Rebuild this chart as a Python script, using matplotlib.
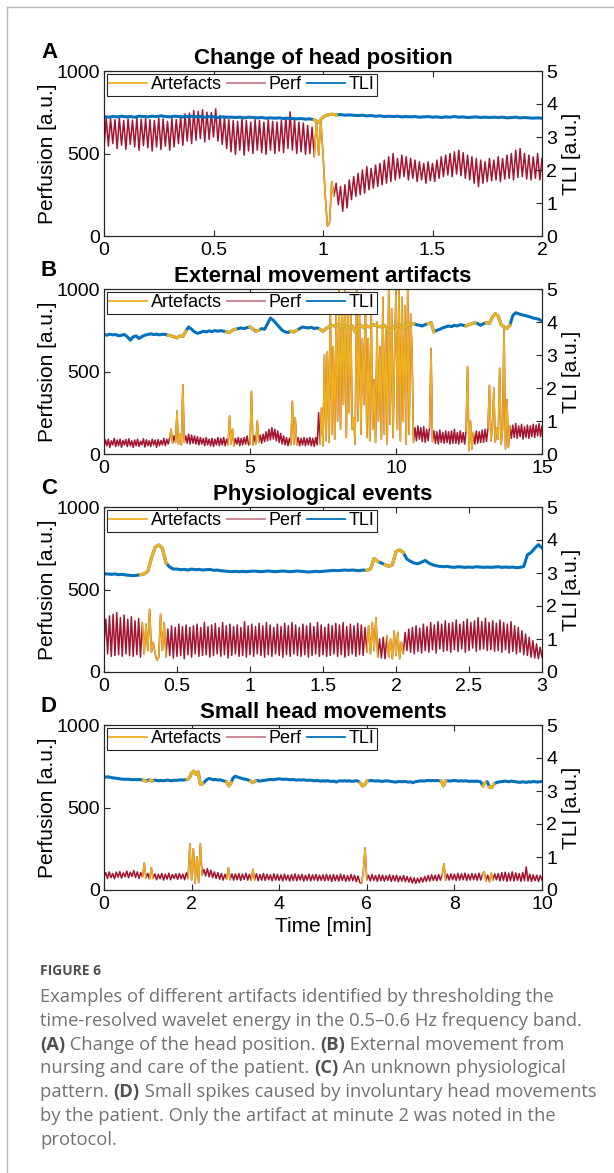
import numpy as np
import matplotlib
matplotlib.use("Agg")
from matplotlib import pyplot as plt
from matplotlib.lines import Line2D

plt.rcParams["font.family"] = ["Liberation Sans", "DejaVu Sans"]

W, H = 614, 1173
ORANGE = "#EDB120"
RED = "#A2142F"
BLUE = "#0072BD"
AXC = "#262626"

# ---- A: change of head position (0-2 min) ----
perf_a = [
    530, 715, 545, 712, 560, 705, 530, 718, 550, 700,
    525, 710, 555, 702, 540, 716, 520, 708, 548, 712,
    535, 705, 515, 700, 540, 715, 525, 710, 545, 695,
    520, 712, 540, 706, 560, 725, 550, 740, 575, 745,
    560, 760, 580, 755, 590, 765, 570, 750, 585, 748,
    600, 770, 575, 730, 555, 720, 530, 705, 510, 700,
    495, 695, 520, 710, 490, 700, 515, 690, 500, 705,
    520, 700, 505, 690, 495, 705, 520, 695, 500, 690,
    515, 700, 505, 720, 530, 752, 520, 705, 500, 690,
    510, 685, 495, 670, 500, 660, 480, 700, 490, 700,
    500, 250, 60, 80, 330, 240, 320, 190, 300, 150,
    310, 170, 340, 220, 360, 240, 380, 250, 400, 260,
    420, 280, 410, 290, 430, 300, 440, 310, 460, 320,
    480, 330, 500, 340, 470, 350, 490, 360, 480, 340,
    470, 350, 460, 330, 450, 340, 440, 320, 450, 335,
    440, 330, 460, 350, 480, 360, 490, 370, 500, 360,
    510, 375, 520, 365, 505, 350, 490, 340, 480, 320,
    470, 300, 460, 320, 450, 330, 470, 335, 460, 340,
    480, 330, 470, 345, 490, 350, 500, 340, 520, 355,
    530, 360, 500, 345, 490, 340, 480, 350, 500, 340,
    470,
]
tli_a = [
    3.62, 3.60, 3.62, 3.61, 3.63, 3.61, 3.62, 3.60, 3.63, 3.62,
    3.61, 3.63, 3.62, 3.64, 3.62, 3.61, 3.63, 3.62, 3.61, 3.62,
    3.63, 3.61, 3.62, 3.60, 3.62, 3.61, 3.59, 3.61, 3.60, 3.60,
    3.59, 3.60, 3.58, 3.60, 3.59, 3.58, 3.59, 3.57, 3.58, 3.57,
    3.58, 3.56, 3.57, 3.56, 3.55, 3.56, 3.54, 3.55, 3.52, 3.44,
    3.60, 3.67, 3.69, 3.67, 3.68, 3.66, 3.67, 3.66, 3.65, 3.66,
    3.64, 3.65, 3.63, 3.64, 3.62, 3.63, 3.62, 3.63, 3.61, 3.62,
    3.61, 3.62, 3.60, 3.61, 3.62, 3.60, 3.61, 3.59, 3.61, 3.60,
    3.62, 3.60, 3.61, 3.59, 3.60, 3.61, 3.59, 3.60, 3.59, 3.60,
    3.59, 3.60, 3.58, 3.59, 3.60, 3.58, 3.59, 3.58, 3.57, 3.58,
    3.57,
]
art_a = [(0.965, 1.045)]

# ---- B: external movement (0-15 min) ----
perf_b = [
    45, 85, 50, 90, 40, 80, 55, 95, 45, 85, 50, 90, 40, 82, 55, 88, 45, 92, 50, 80,
    40, 85, 50, 90, 45, 78, 55, 92, 42, 86, 50, 80, 45, 90, 55, 85, 40, 88, 50, 82,
    55, 95, 50, 90, 60, 100, 150, 65, 110, 70, 260, 60, 120, 55, 420, 70, 110, 65, 120, 60,
    115, 65, 110, 60, 105, 55, 100, 60, 95, 50, 100, 55, 90, 50, 95, 45, 90, 55, 100, 50,
    95, 55, 100, 50, 90, 55, 230, 60, 150, 50, 95, 60, 100, 50, 95, 55, 100, 60, 110, 55,
    60, 380, 55, 110, 60, 200, 70, 115, 65, 120, 75, 135, 80, 150, 85, 160, 90, 150, 80, 140,
    70, 125, 60, 110, 55, 100, 50, 95, 55, 320, 60, 220, 55, 100, 50, 95, 55, 100, 50, 95,
    55, 100, 50, 95, 45, 100, 55, 250, 60, 280, 50, 600, 80, 620, 70, 900, 120, 650, 90, 850,
    200, 1000, 150, 950, 300, 1000, 100, 980, 250, 880, 150, 220, 60, 1000, 200, 850, 120, 700, 300, 950,
    100, 700, 80, 900, 150, 450, 70, 800, 200, 650, 90, 950, 120, 750, 60, 1000, 180, 880, 100, 600,
    1000, 150, 1000, 80, 950, 200, 900, 60, 1000, 120, 850, 620, 70, 160, 80, 170, 90, 160, 75, 165,
    70, 150, 80, 160, 640, 75, 140, 65, 135, 60, 145, 70, 130, 65, 140, 70, 135, 60, 140, 65,
    150, 65, 130, 60, 140, 70, 130, 60, 140, 530, 20, 200, 30, 130, 60, 140, 65, 135, 70, 145,
    70, 150, 75, 160, 416, 80, 150, 400, 70, 160, 90, 520, 60, 150, 775, 30, 330, 40, 170, 95,
    175, 100, 185, 95, 170, 105, 180, 90, 165, 100, 175, 95, 170, 105, 180, 100, 175, 110, 185, 105,
    170,
]
tli_b = [
    3.62, 3.60, 3.63, 3.61, 3.62, 3.58, 3.60, 3.62, 3.55, 3.45,
    3.55, 3.58, 3.50, 3.56, 3.60, 3.62, 3.64, 3.62, 3.63, 3.61,
    3.63, 3.62, 3.60, 3.58, 3.55, 3.52, 3.58, 3.56, 3.72, 3.85,
    3.78, 3.70, 3.66, 3.68, 3.72, 3.70, 3.73, 3.71, 3.74, 3.72,
    3.74, 3.72, 3.70, 3.68, 3.75, 3.78, 3.80, 3.82, 3.80, 3.83,
    3.85, 3.78, 3.72, 3.75, 3.80, 3.78, 3.95, 4.12, 4.05, 3.95,
    3.85, 3.75, 3.70, 3.68, 3.72, 3.70, 3.75, 3.80, 3.85, 3.83,
    3.82, 3.84, 3.80, 3.82, 3.78, 3.72, 3.80, 3.85, 3.90, 3.88,
    3.92, 3.85, 3.90, 3.86, 3.80, 3.88, 3.70, 3.85, 3.90, 3.82,
    3.88, 3.85, 3.92, 3.90, 3.87, 3.85, 3.90, 3.80, 3.70, 3.85,
    3.88, 3.92, 3.80, 3.85, 3.95, 3.90, 3.95, 3.92, 3.90, 3.88,
    3.92, 3.95, 3.98, 3.70, 3.75, 3.78, 3.82, 3.85, 3.88, 3.86,
    3.90, 3.88, 3.92, 3.90, 3.88, 3.92, 3.95, 3.98, 3.95, 3.90,
    3.95, 3.98, 3.96, 4.15, 4.25, 4.18, 3.92, 3.85, 3.80, 3.90,
    4.20, 4.28, 4.25, 4.22, 4.20, 4.18, 4.15, 4.12, 4.10, 4.08,
    4.02,
]
art_b = [(2.27, 2.33), (2.47, 2.73), (4.28, 4.42), (5.03, 5.07), (5.23, 5.27),
         (6.43, 6.57), (7.43, 10.57), (11.18, 11.22), (12.43, 12.62), (13.17, 13.87)]

# ---- C: physiological events (0-3 min) ----
perf_c = [
    160, 320, 110, 340, 95, 350, 100, 360,
    105, 330, 95, 345, 110, 320, 100, 335,
    95, 310, 105, 325, 90, 300, 110, 290,
    130, 380, 120, 180, 110, 70, 90, 350,
    130, 300, 90, 260, 100, 280, 85, 270,
    95, 290, 100, 275, 80, 285, 105, 270,
    90, 280, 110, 290, 95, 270, 100, 300,
    105, 275, 90, 285, 100, 295, 110, 270,
    95, 300, 105, 280, 85, 290, 100, 275,
    110, 285, 95, 270, 100, 305, 90, 280,
    105, 290, 95, 275, 110, 295, 100, 280,
    90, 300, 105, 285, 95, 270, 110, 290,
    100, 275, 90, 295, 105, 280, 95, 300,
    110, 285, 100, 270, 95, 290, 105, 280,
    90, 295, 100, 275, 110, 300, 95, 285,
    105, 270, 95, 290, 100, 280, 110, 295,
    95, 285, 105, 300, 90, 275, 100, 290,
    110, 280, 95, 295, 105, 285, 100, 270,
    120, 280, 110, 300, 130, 330, 90, 200,
    85, 210, 80, 220, 90, 200, 80, 250,
    100, 240, 80, 180, 110, 240, 130, 260,
    120, 270, 110, 280, 125, 265, 115, 290,
    130, 275, 120, 300, 135, 285, 115, 305,
    140, 290, 125, 310, 130, 295, 120, 300,
    135, 315, 125, 290, 140, 305, 120, 320,
    130, 300, 145, 310, 125, 330, 135, 305,
    140, 325, 130, 300, 135, 310, 125, 295,
    130, 315, 120, 300, 135, 290, 115, 305,
    125, 280, 110, 270, 120, 250, 105, 230,
    100, 210, 90, 190, 85, 170, 80, 150,
    90,
]
tli_c = [
    2.98, 2.97, 2.96, 2.97, 2.95, 2.96, 2.94, 2.93, 2.92, 2.93,
    2.95, 2.97, 3.05, 3.45, 3.78, 3.85, 3.75, 3.30, 3.18, 3.12,
    3.12, 3.10, 3.11, 3.09, 3.12, 3.10, 3.11, 3.09, 3.10, 3.11,
    3.08, 3.09, 3.07, 3.06, 3.05, 3.04, 3.05, 3.04, 3.05, 3.04,
    3.05, 3.06, 3.05, 3.04, 3.05, 3.06, 3.05, 3.04, 3.05, 3.06,
    3.05, 3.04, 3.05, 3.06, 3.05, 3.04, 3.03, 3.04, 3.05, 3.04,
    3.05, 3.06, 3.07, 3.08, 3.07, 3.08, 3.09, 3.08, 3.09, 3.08,
    3.07, 3.09, 3.08, 3.12, 3.44, 3.35, 3.30, 3.25, 3.20, 3.25,
    3.65, 3.70, 3.62, 3.42, 3.35, 3.30, 3.28, 3.33, 3.38, 3.30,
    3.25, 3.22, 3.20, 3.19, 3.20, 3.18, 3.17, 3.19, 3.18, 3.17,
    3.18, 3.17, 3.19, 3.18, 3.17, 3.18, 3.17, 3.18, 3.19, 3.17,
    3.18, 3.17, 3.18, 3.16, 3.17, 3.20, 3.55, 3.62, 3.75, 3.86,
    3.76,
]
art_c = [(0.27, 0.42), (1.81, 1.865), (1.95, 2.05)]

# ---- D: small head movements (0-10 min) ----
perf_d = [
    80, 105, 70, 110, 75, 100, 68, 108, 78, 112, 72, 104, 80, 115, 74, 108, 82, 118, 76, 110, 70, 105, 78, 165, 72,
    100, 65, 135, 70, 98, 62, 95, 68, 100, 60, 96, 66, 102, 62, 94, 70, 98, 64, 100, 68, 96, 62, 104, 70, 280,
    60, 250, 40, 200, 45, 280, 90, 125, 85, 130, 80, 120, 75, 110, 70, 105, 65, 100, 60, 95, 65, 135, 62, 98, 60,
    98, 62, 100, 58, 96, 64, 102, 60, 95, 58, 125, 62, 98, 56, 94, 60, 100, 58, 96, 62, 92, 56, 98, 60, 95,
    58, 92, 55, 96, 60, 90, 54, 94, 58, 98, 56, 92, 60, 95, 54, 90, 58, 96, 55, 92, 60, 94, 56, 90, 58,
    92, 55, 95, 58, 90, 52, 94, 56, 90, 54, 96, 58, 92, 52, 88, 55, 94, 56, 90, 50, 85, 45, 40, 110, 255,
    60, 90, 55, 94, 58, 88, 52, 92, 56, 90, 54, 86, 58, 92, 52, 88, 55, 90, 50, 84, 54, 88, 50, 82, 48,
    78, 42, 74, 40, 72, 45, 76, 48, 82, 52, 88, 55, 92, 58, 90, 56, 94, 60, 92, 160, 58, 96, 60, 98, 62,
    96, 58, 100, 60, 98, 62, 102, 58, 96, 60, 100, 62, 98, 58, 102, 60, 96, 112, 55, 90, 50, 102, 60, 98, 62,
    100, 55, 105, 58, 108, 52, 102, 56, 110, 54, 104, 58, 100, 52, 106, 56, 140, 54, 96, 52, 92, 56, 90, 52, 88,
    60,
]
tli_d = [
    3.44, 3.42, 3.43, 3.41, 3.40, 3.39, 3.38, 3.37, 3.36, 3.36, 3.35, 3.36, 3.35, 3.34, 3.35, 3.34, 3.35, 3.34, 3.33, 3.30,
    3.33, 3.34, 3.30, 3.33, 3.32, 3.31, 3.32, 3.31, 3.32, 3.33, 3.32, 3.31, 3.33, 3.32, 3.33, 3.34, 3.33, 3.34, 3.35, 3.40,
    3.55, 3.60, 3.50, 3.58, 3.20, 3.22, 3.28, 3.35, 3.38, 3.36, 3.34, 3.35, 3.33, 3.34, 3.32, 3.30, 3.28, 3.15, 3.25, 3.40,
    3.45, 3.42, 3.40, 3.38, 3.36, 3.35, 3.33, 3.30, 3.25, 3.30, 3.32, 3.30, 3.31, 3.32, 3.33, 3.34, 3.35, 3.34, 3.35, 3.36,
    3.37, 3.36, 3.35, 3.36, 3.35, 3.34, 3.35, 3.34, 3.33, 3.34, 3.33, 3.34, 3.33, 3.32, 3.33, 3.32, 3.31, 3.32, 3.31, 3.30,
    3.31, 3.30, 3.31, 3.30, 3.29, 3.30, 3.27, 3.30, 3.31, 3.30, 3.31, 3.30, 3.31, 3.29, 3.30, 3.31, 3.30, 3.25, 3.15, 3.18,
    3.30, 3.31, 3.32, 3.31, 3.30, 3.31, 3.30, 3.29, 3.30, 3.31, 3.30, 3.29, 3.28, 3.27, 3.28, 3.29, 3.28, 3.29, 3.28, 3.27,
    3.28, 3.25, 3.28, 3.29, 3.30, 3.31, 3.30, 3.31, 3.32, 3.31, 3.32, 3.31, 3.32, 3.31, 3.30, 3.15, 3.30, 3.31, 3.30, 3.31,
    3.32, 3.31, 3.30, 3.31, 3.30, 3.31, 3.30, 3.29, 3.30, 3.29, 3.30, 3.29, 3.28, 3.15, 3.25, 3.28, 3.12, 3.10, 3.20, 3.25,
    3.27, 3.28, 3.29, 3.30, 3.29, 3.28, 3.30, 3.29, 3.28, 3.27, 3.26, 3.28, 3.27, 3.26, 3.28, 3.27, 3.29, 3.28, 3.27, 3.28,
    3.29,
]
art_d = [(0.91, 0.93), (1.07, 1.09), (1.95, 2.21), (2.83, 2.85), (3.39, 3.41),
         (5.89, 5.97), (7.75, 7.77), (8.67, 8.69), (8.83, 8.85)]

panels = [
    ("A", "Change of head position", 2, [0, 0.5, 1, 1.5, 2], perf_a, tli_a, art_a, 71),
    ("B", "External movement artifacts", 15, [0, 5, 10, 15], perf_b, tli_b, art_b, 289),
    ("C", "Physiological events", 3, [0, 0.5, 1, 1.5, 2, 2.5, 3], perf_c, tli_c, art_c, 507),
    ("D", "Small head movements", 10, [0, 2, 4, 6, 8, 10], perf_d, tli_d, art_d, 725),
]


def pieces(t, y, spans):
    # slices of a trace that fall into the artefact windows (plus one sample each side)
    for a, b in spans:
        i0 = max(np.searchsorted(t, a) - 1, 0)
        i1 = min(np.searchsorted(t, b, side="right"), len(t) - 1)
        yield t[i0:i1 + 1], y[i0:i1 + 1]


fig = plt.figure(figsize=(W / 100, H / 100), dpi=100)

left, right = 104, 542
ax_h = 165
for letter, title, t_end, xticks, perf, tli, spans, top in panels:
    ax1 = fig.add_axes([left / W, 1 - (top + ax_h) / H, (right - left) / W, ax_h / H])
    ax2 = ax1.twinx()

    perf = np.array(perf, dtype=float)
    tli = np.array(tli, dtype=float)
    tp = np.linspace(0, t_end, len(perf))
    tt = np.linspace(0, t_end, len(tli))

    ax1.plot(tp, perf, color=RED, lw=1.1)
    for xs, ys in pieces(tp, perf, spans):
        ax1.plot(xs, ys, color=ORANGE, lw=1.1)
    ax2.plot(tt, tli, color=BLUE, lw=2.2)
    for xs, ys in pieces(tt, tli, spans):
        ax2.plot(xs, ys, color=ORANGE, lw=2.2)

    ax1.set_xlim(0, t_end)
    ax1.set_ylim(0, 1000)
    ax2.set_ylim(0, 5)
    ax1.set_xticks(xticks)
    ax1.set_xticklabels([f"{v:g}" for v in xticks])
    ax1.set_yticks([0, 500, 1000])
    ax2.set_yticks([0, 1, 2, 3, 4, 5])

    for ax in (ax1, ax2):
        for s in ax.spines.values():
            s.set_color(AXC)
            s.set_linewidth(0.8)
        ax.tick_params(direction="in", length=4, width=0.8, colors=AXC,
                       labelsize=14, labelcolor="black", pad=3)
    ax1.tick_params(axis="x", top=True, pad=4)

    ax1.set_ylabel("Perfusion [a.u.]", fontsize=15)
    ax1.yaxis.set_label_coords(-0.108, 0.5)
    ax2.set_ylabel("TLI [a.u.]", fontsize=15)
    ax2.yaxis.set_label_coords(1.045, 0.5)

    ax1.set_title(title, fontsize=16, fontweight="bold", pad=5)
    fig.text(41 / W, 1 - (top - 13) / H, letter, fontsize=16, fontweight="bold", va="baseline")

    handles = [Line2D([], [], color=ORANGE, lw=1.3),
               Line2D([], [], color=RED, lw=1.3, alpha=0.55),
               Line2D([], [], color=BLUE, lw=1.3)]
    leg = ax2.legend(handles, ["Artefacts", "Perf", "TLI"], loc="upper left", ncol=3,
                     fontsize=13, fancybox=False, framealpha=1, edgecolor=AXC,
                     borderpad=0.15, handlelength=2.1, handletextpad=0.2,
                     columnspacing=0.3, borderaxespad=0.15)
    leg.get_frame().set_linewidth(0.8)

ax1.set_xlabel("Time [min]", fontsize=15, labelpad=3)

# page frame
fig.add_artist(Line2D([7 / W, 7 / W], [0, 1 - 7 / H], transform=fig.transFigure, color="#b8b8b8", lw=1))
fig.add_artist(Line2D([7 / W, 1], [1 - 7 / H, 1 - 7 / H], transform=fig.transFigure, color="#b8b8b8", lw=1))

# caption
renderer = fig.canvas.get_renderer()
CAP = "#707173"
CAPB = "#505050"


def caption_line(y_px, parts, size=13.2):
    x = 40
    for s, bold in parts:
        txt = fig.text(x / W, 1 - y_px / H, s, fontsize=size, family=["Open Sans", "DejaVu Sans"],
                       fontweight="bold" if bold else "normal",
                       color=CAPB if bold else CAP, va="baseline")
        x += txt.get_window_extent(renderer=renderer).width


caption_line(975, [("FIGURE 6", True)], size=10)
lines = [
    [("Examples of different artifacts identified by thresholding the", False)],
    [("time-resolved wavelet energy in the 0.5\u20130.6 Hz frequency band.", False)],
    [("(A)", True), (" Change of the head position. ", False), ("(B)", True), (" External movement from", False)],
    [("nursing and care of the patient. ", False), ("(C)", True), (" An unknown physiological", False)],
    [("pattern. ", False), ("(D)", True), (" Small spikes caused by involuntary head movements", False)],
    [("by the patient. Only the artifact at minute 2 was noted in the", False)],
    [("protocol.", False)],
]
for i, parts in enumerate(lines):
    caption_line(1002 + 23.8 * i, parts)

fig.savefig("out.png", dpi=100)
